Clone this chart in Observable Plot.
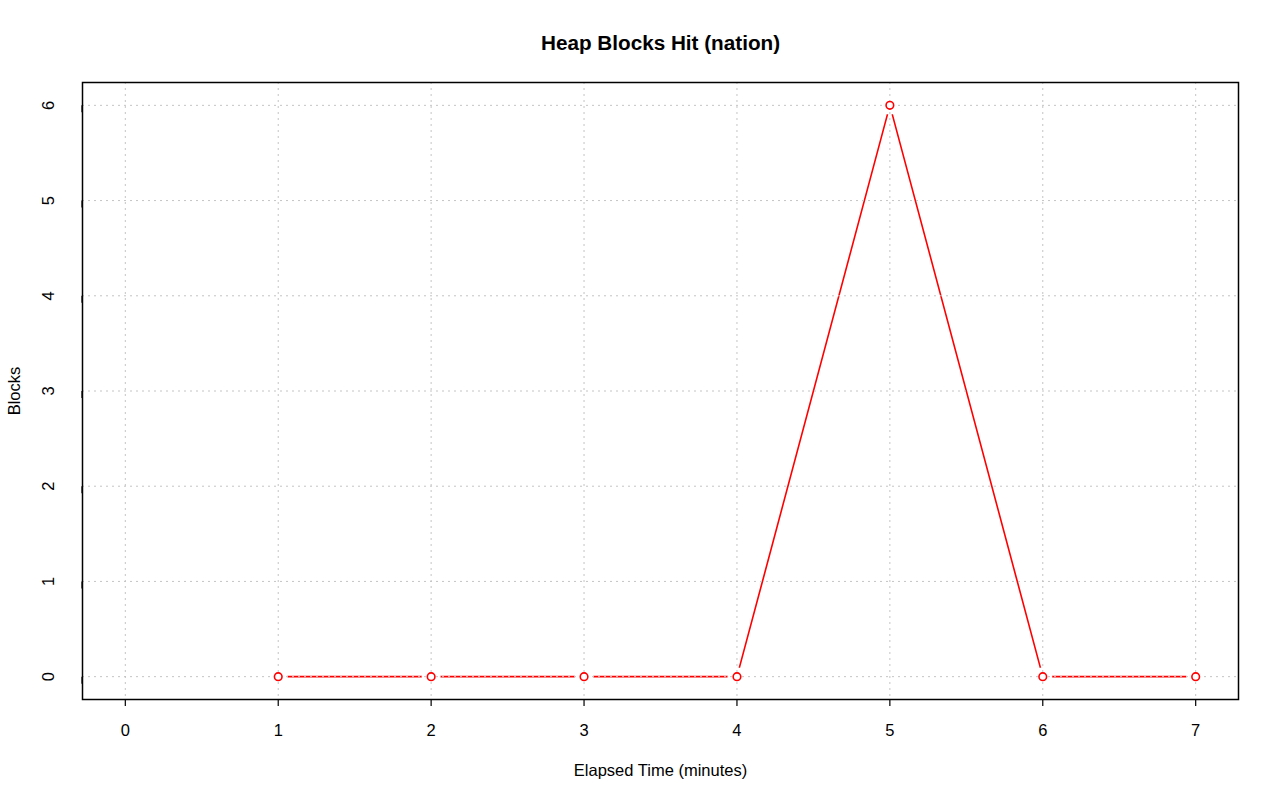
<!DOCTYPE html>
<html>
<head>
<meta charset="utf-8">
<script src="https://cdn.jsdelivr.net/npm/d3@7"></script>
<script src="https://cdn.jsdelivr.net/npm/@observablehq/plot@0.6"></script>
<style>
  html, body { margin: 0; padding: 0; background: #fff; }
  #chart svg { display: block; }
</style>
</head>
<body>
<div id="chart"></div>
<script>
const minutes = [1, 2, 3, 4, 5, 6, 7];
const blocks = [0, 0, 0, 0, 6, 0, 0];
const xTicks = [0, 1, 2, 3, 4, 5, 6, 7];
const yTicks = [0, 1, 2, 3, 4, 5, 6];
const title = "Heap Blocks Hit (nation)";
const xLabel = "Elapsed Time (minutes)";
const yLabel = "Blocks";

const data = minutes.map((m, i) => ({minute: m, blocks: blocks[i]}));
const font = "'Liberation Sans', Arial, Helvetica, sans-serif";
const gridStyle = {stroke: "#c4c4c4", strokeWidth: 1, strokeDasharray: "2,4"};
const fs = 16.5;

const chart = Plot.plot({
  width: 1280,
  height: 801,
  marginLeft: 82,
  marginRight: 42,
  marginTop: 82,
  marginBottom: 102,
  style: {fontFamily: font, fontSize: fs + "px", color: "#000", background: "#fff"},
  x: {domain: [-0.28, 7.28]},
  y: {domain: [-0.24, 6.24]},
  marks: [
    Plot.line(data, {x: "minute", y: "blocks", stroke: "red", strokeWidth: 1.6}),
    Plot.dot(data, {x: "minute", y: "blocks", r: 9.5, fill: "white", stroke: "none"}),
    Plot.ruleX(xTicks, {...gridStyle}),
    Plot.ruleY(yTicks, {...gridStyle}),
    Plot.dot(data, {x: "minute", y: "blocks", r: 3.8, fill: "white", stroke: "red", strokeWidth: 1.6}),
    Plot.frame({stroke: "black", strokeWidth: 1.5}),
    Plot.axisX(xTicks, {anchor: "bottom", tickSize: 7, tickPadding: 18, tickFormat: "d", label: null, fontSize: fs, strokeWidth: 1.2}),
    Plot.axisY(yTicks, {anchor: "left", tickSize: 7, tickPadding: 27, tickFormat: "d", label: null, rotate: -90, textAnchor: "middle", lineAnchor: "middle", fontSize: fs, strokeWidth: 1.2}),
    Plot.text([title], {frameAnchor: "top", dy: -39, lineAnchor: "middle", textAnchor: "middle", fontWeight: "bold", fontSize: 20.7, fill: "black"}),
    Plot.text([xLabel], {frameAnchor: "bottom", dy: 71, lineAnchor: "middle", textAnchor: "middle", fontSize: fs, fill: "black"}),
    Plot.text([yLabel], {frameAnchor: "left", dx: -68, lineAnchor: "middle", textAnchor: "middle", rotate: -90, fontSize: fs, fill: "black"})
  ]
});
document.getElementById("chart").appendChild(chart);
</script>
</body>
</html>
